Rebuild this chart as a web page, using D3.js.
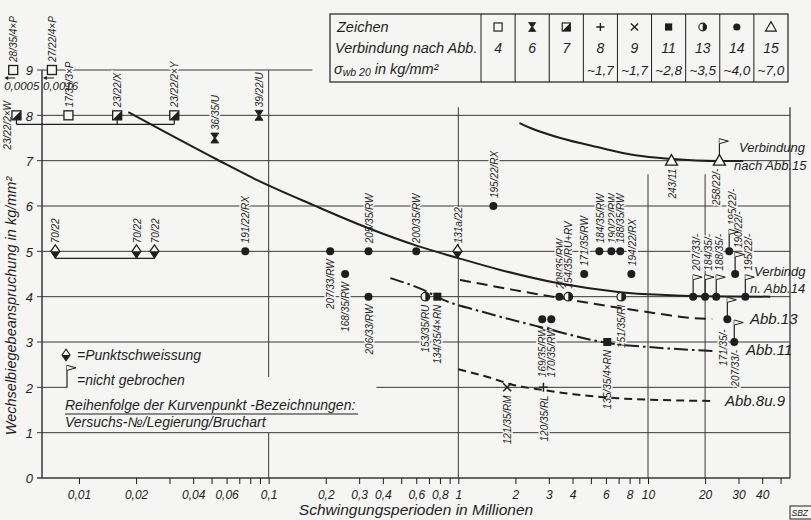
<!DOCTYPE html>
<html><head><meta charset="utf-8">
<script src="https://cdn.jsdelivr.net/npm/d3@7"></script>
<style>
html,body{margin:0;padding:0;background:#f5f5f3;}
svg{display:block;}
text{font-family:"Liberation Sans",Arial,sans-serif;font-style:italic;fill:#1e1e1e;}
</style></head><body>
<svg id="c" width="811" height="520"></svg>
<script>
// ---------------- DATA ----------------
const xTickValues = [0.01,0.02,0.04,0.06,0.1,0.2,0.3,0.4,0.6,0.8,1,2,3,4,6,8,10,20,30,40];
const xTickLabels = ["0,01","0,02","0,04","0,06","0,1","0,2","0,3","0,4","0,6","0,8","1","2","3","4","6","8","10","20","30","40"];
const xMinorTicks = [0.01,0.02,0.03,0.04,0.05,0.06,0.07,0.08,0.09,0.1,0.2,0.3,0.4,0.5,0.6,0.7,0.8,0.9,1,2,3,4,5,6,7,8,9,10,20,30,40,50];
const yTickValues = [0,1,2,3,4,5,6,7,8,9];

const tableSymbols = ["sq","hg","hsq","plus","x","fsq","hc","fc","tri"];
const tableAbb = ["4","6","7","8","9","11","13","14","15"];
const tableSigma = ["","","","~1,7","~1,7","~2,8","~3,5","~4,0","~7,0"];

// curves: [N in Mio, sigma kg/mm2]
const curveAbb15 = [[2.10,7.83],[2.40,7.72],[3.45,7.50],[5.40,7.30],[8.57,7.12],[13.1,7.04],[23.2,6.99],[31.8,6.99]];
const curveAbb14 = [[0.0182,8.07],[0.0537,7.02],[0.0871,6.57],[0.172,6.02],[0.331,5.52],[0.608,5.12],[1.0,4.85],[1.665,4.59],[3.33,4.30],[7.14,4.10],[11.6,4.04],[18.9,4.01],[44.1,4.0]];
const curveAbb13 = [[1.02,4.37],[1.95,4.15],[3.45,3.97],[7.14,3.75],[11.6,3.62],[16.7,3.53],[21.8,3.51]];
const curveAbb11 = [[0.438,4.41],[0.654,4.15],[0.834,3.93],[1.354,3.66],[2.71,3.33],[6.10,2.98],[11.6,2.87],[22.1,2.80]];
const curveAbb89 = [[1.0,2.40],[1.475,2.21],[1.88,2.07],[2.81,1.94],[4.04,1.85],[6.88,1.76],[11.6,1.72],[22.0,1.70]];

// test points: id, text, N (plotted), sigma, marker, label side (a=above,b=below,l=left), flag (not broken)
const points = [
 {id:"p1", t:"28/35/4×P", n:0.0045, s:9, m:"sq", lp:"a", note:"0,0005"},
 {id:"p2", t:"27/22/4×P", n:0.0072, s:9, m:"sq", lp:"a", note:"0,0016"},
 {id:"p3", t:"23/22/2×W", n:0.00468, s:8, m:"hsq", lp:"l"},
 {id:"p4", t:"17/35/3×P", n:0.0088, s:8, m:"sq", lp:"a"},
 {id:"p5", t:"23/22/X", n:0.0159, s:8, m:"hsq", lp:"a"},
 {id:"p6", t:"23/22/2×Y", n:0.0318, s:8, m:"hsq", lp:"a"},
 {id:"p7", t:"36/35/U", n:0.052, s:7.5, m:"hg", lp:"a"},
 {id:"p8", t:"39/22/U", n:0.089, s:8, m:"hg", lp:"a"},
 {id:"p9", t:"70/22", n:0.0075, s:5, m:"dia", lp:"a"},
 {id:"p10", t:"70/22", n:0.0201, s:5, m:"dia", lp:"a"},
 {id:"p11", t:"70/22", n:0.0250, s:5, m:"dia", lp:"a"},
 {id:"p12", t:"191/22/RX", n:0.0753, s:5, m:"fc", lp:"a"},
 {id:"p13", t:"207/33/RW", n:0.211, s:5, m:"fc", lp:"b"},
 {id:"p14", t:"168/35/RW", n:0.253, s:4.5, m:"fc", lp:"b"},
 {id:"p15", t:"205/35/RW", n:0.336, s:5, m:"fc", lp:"a"},
 {id:"p16", t:"206/33/RW", n:0.336, s:4, m:"fc", lp:"b"},
 {id:"p17", t:"200/35/RW", n:0.60, s:5, m:"fc", lp:"a"},
 {id:"p18", t:"131a/22", n:0.99, s:5, m:"dia", lp:"a"},
 {id:"p19", t:"195/22/RX", n:1.53, s:6, m:"fc", lp:"a"},
 {id:"p20", t:"153/35/RU", n:0.67, s:4, m:"hc", lp:"b"},
 {id:"p21", t:"134/35/4×RN", n:0.775, s:4, m:"fsq", lp:"b"},
 {id:"p22", t:"169/35/RW", n:2.77, s:3.5, m:"fc", lp:"b"},
 {id:"p23", t:"170/35/RW", n:3.09, s:3.5, m:"fc", lp:"b"},
 {id:"p24", t:"208/35/RW", n:3.41, s:4, m:"fc", lp:"a"},
 {id:"p25", t:"154/35/RU+RV", n:3.80, s:4, m:"hc", lp:"a"},
 {id:"p26", t:"171/35/RW", n:4.61, s:4.5, m:"fc", lp:"a"},
 {id:"p27", t:"184/35/RW", n:5.54, s:5, m:"fc", lp:"a"},
 {id:"p28", t:"190/22/RW", n:6.41, s:5, m:"fc", lp:"a"},
 {id:"p29", t:"188/35/RW", n:7.14, s:5, m:"fc", lp:"a"},
 {id:"p30", t:"194/22/RX", n:8.17, s:4.5, m:"fc", lp:"a"},
 {id:"p31", t:"151/35/RI", n:7.23, s:4, m:"hc", lp:"b"},
 {id:"p32", t:"135/35/4×RN", n:6.10, s:3, m:"fsq", lp:"b"},
 {id:"p33", t:"121/35/RM", n:1.81, s:2, m:"x", lp:"b"},
 {id:"p34", t:"120/35/RL", n:2.81, s:2, m:"plus", lp:"b"},
 {id:"p35", t:"243/11", n:13.3, s:7, m:"tri", lp:"b"},
 {id:"p36", t:"258/22/-", n:23.8, s:7, m:"tri", lp:"b", flag:true},
 {id:"p37", t:"207/33/-", n:17.3, s:4, m:"fc", lp:"a", flag:true},
 {id:"p38", t:"184/35/-", n:20.0, s:4, m:"fc", lp:"a", flag:true},
 {id:"p39", t:"188/35/-", n:22.9, s:4, m:"fc", lp:"a", flag:true},
 {id:"p40", t:"195/22/-", n:26.8, s:5, m:"fc", lp:"a", flag:true},
 {id:"p41", t:"190/22/-", n:28.8, s:4.5, m:"fc", lp:"a", flag:true},
 {id:"p42", t:"195/22/-", n:32.6, s:4, m:"fc", lp:"a", flag:true},
 {id:"p43", t:"171/35/-", n:26.2, s:3.5, m:"fc", lp:"b", flag:true},
 {id:"p44", t:"207/33/-", n:28.5, s:3, m:"fc", lp:"b", flag:true}
];
const brackets = [["p3","p5","p6"],["p9","p10","p11"]];

// ---------------- LAYOUT ----------------
const INK = "#1e1e1e", BG = "#f5f5f3", GRID = "#383838";
const svg = d3.select("#c");
svg.append("rect").attr("width",811).attr("height",520).attr("fill",BG);
const x = d3.scaleLog().domain([0.006383, 56.06]).range([42, 790]);
const y = d3.scaleLinear().domain([0, 9]).range([478, 70]);
const labelShift = {p36:[-4,0], p43:[-4,2], p44:[1,0]};
const bracketDrop = [9, 7];

// grid
const grid = svg.append("g").attr("stroke", GRID).attr("stroke-width", 1).attr("fill","none");
function hl(v, x0, x1, w){ grid.append("line").attr("x1",x0).attr("x2",x1).attr("y1",y(v)).attr("y2",y(v)).attr("stroke-width",w||1); }
function vl(n, v0, v1, w){ grid.append("line").attr("x1",x(n)).attr("x2",x(n)).attr("y1",y(v0)).attr("y2",y(v1)).attr("stroke-width",w||1); }
hl(9, 37, x(0.17));
[8,7,6,5,4,3,1].forEach(v => hl(v, 37, x.range()[1]));
hl(2, 37, x(0.00869)); hl(2, x(0.37), x.range()[1]);
hl(0, 37, x.range()[1], 1.5);
grid.append("line").attr("x1",42).attr("x2",42).attr("y1",y(9)).attr("y2",y(0)).attr("stroke-width",1.5);
vl(0.1, 9, 2.23); vl(0.1, 0.99, 0);
vl(1, 8.18, 0); vl(10, 6.7, 0); vl(20, 6.7, 0);
vl(x.domain()[1], 8.18, 0, 1.3);

// x axis ticks
const xa = svg.append("g").attr("transform", `translate(0,${y(0)})`)
  .call(d3.axisBottom(x).tickValues(xMinorTicks).tickSize(6).tickFormat(""));
xa.select(".domain").remove();
xa.selectAll("line").attr("stroke", INK).attr("stroke-width",1);
const xl = svg.append("g").attr("transform", `translate(0,${y(0)})`)
  .call(d3.axisBottom(x).tickValues(xTickValues).tickSize(0).tickPadding(12).tickFormat((d,i)=>xTickLabels[i]));
xl.select(".domain").remove();
xl.selectAll("text").attr("font-size",12).attr("font-family","Liberation Sans, Arial, sans-serif").attr("font-style","italic").attr("fill",INK);

const yl = svg.append("g").attr("transform", "translate(42,0)")
  .call(d3.axisLeft(y).tickValues(yTickValues).tickSize(0).tickPadding(9).tickFormat(d3.format("d")));
yl.select(".domain").remove();
yl.selectAll("text").attr("font-size",13).attr("font-family","Liberation Sans, Arial, sans-serif").attr("font-style","italic").attr("fill",INK).attr("dy","0.36em");

// axis titles
svg.append("text").attr("transform","translate(16,306) rotate(-90)").attr("text-anchor","middle")
  .attr("font-size",14.5).text("Wechselbiegebeanspruchung in kg/mm²");
svg.append("text").attr("x",416).attr("y",515).attr("text-anchor","middle").attr("font-size",15.5)
  .text("Schwingungsperioden in Millionen");

// symbol painter
function drawSym(g, type, cx, cy, k) {
  k = k || 1;
  const gg = g.append("g").attr("transform", `translate(${cx},${cy}) scale(${k})`);
  switch(type){
    case "sq": gg.append("rect").attr("x",-4.5).attr("y",-4.5).attr("width",9).attr("height",9).attr("fill",BG).attr("stroke",INK).attr("stroke-width",1.3); break;
    case "hsq": gg.append("rect").attr("x",-4.5).attr("y",-4.5).attr("width",9).attr("height",9).attr("fill",BG).attr("stroke",INK).attr("stroke-width",1.3);
      gg.append("path").attr("d","M4.5,-4.5 L4.5,4.5 L-4.5,4.5 Z").attr("fill",INK); break;
    case "hg": gg.append("path").attr("d","M-4,-5 H4 L0.6,0 L4,5 H-4 L-0.6,0 Z").attr("fill",INK).attr("stroke",INK).attr("stroke-width",0.8); break;
    case "plus": gg.append("path").attr("d","M-4.5,0 H4.5 M0,-4.5 V4.5").attr("stroke",INK).attr("stroke-width",1.5); break;
    case "x": gg.append("path").attr("d","M-4,-4 L4,4 M-4,4 L4,-4").attr("stroke",INK).attr("stroke-width",1.5); break;
    case "fsq": gg.append("rect").attr("x",-4).attr("y",-4).attr("width",8).attr("height",8).attr("fill",INK); break;
    case "hc": gg.append("circle").attr("r",4.3).attr("fill",BG).attr("stroke",INK).attr("stroke-width",1.2);
      gg.append("path").attr("d","M0,-4.3 A4.3,4.3 0 0 1 0,4.3 Z").attr("fill",INK); break;
    case "fc": gg.append("circle").attr("r",4).attr("fill",INK); break;
    case "tri": gg.append("path").attr("d","M0,-6 L6,4.5 L-6,4.5 Z").attr("fill",BG).attr("stroke",INK).attr("stroke-width",1.3); break;
    case "dia": gg.append("path").attr("d","M0,-6.5 L4.5,0 L0,6.5 L-4.5,0 Z").attr("fill",BG).attr("stroke",INK).attr("stroke-width",1.2);
      gg.append("path").attr("d","M-4.5,0 L4.5,0 L0,6.5 Z").attr("fill",INK); break;
  }
}

// legend table
const tb = svg.append("g");
tb.append("rect").attr("x",330).attr("y",14).attr("width",458).attr("height",68).attr("fill",BG).attr("stroke",INK).attr("stroke-width",1.2);
const c0 = 481, cw = (788-481)/tableAbb.length;
tableAbb.forEach((a,i) => {
  tb.append("line").attr("x1",c0+i*cw).attr("x2",c0+i*cw).attr("y1",14).attr("y2",82).attr("stroke",INK).attr("stroke-width",1);
  const cx = c0 + (i+0.5)*cw;
  drawSym(tb, tableSymbols[i], cx, 27, 0.9);
  tb.append("text").attr("x",cx).attr("y",53).attr("text-anchor","middle").attr("font-size",14).text(a);
  if (tableSigma[i]) tb.append("text").attr("x",cx).attr("y",75).attr("text-anchor","middle").attr("font-size",13.5).text(tableSigma[i]);
});
tb.append("text").attr("x",337).attr("y",32).attr("font-size",14.5).text("Zeichen");
tb.append("text").attr("x",335).attr("y",53).attr("font-size",14.5).text("Verbindung nach Abb.");
const st = tb.append("text").attr("x",334).attr("y",74).attr("font-size",14.5);
st.append("tspan").text("σ");
st.append("tspan").attr("font-size",10.5).attr("dy",2).text("wb 20");
st.append("tspan").attr("dy",-2).text("  in kg/mm²");

// point labels (rotated)
const lg = svg.append("g");
function labelPos(p){
  let lx = x(p.n), ly = y(p.s), anc;
  const sh = labelShift[p.id] || [0,0];
  if (p.lp === "a") { if (p.flag) { ly -= 26; lx += 3; } else ly -= 8; anc = "start"; }
  else if (p.lp === "b") { ly += 8; anc = "end"; }
  else { lx -= 10; ly += 10; anc = "middle"; }
  return [lx+sh[0], ly+sh[1], anc];
}
points.forEach(p => {
  const [lx, ly, anc] = labelPos(p);
  lg.append("text").attr("transform",`translate(${lx},${ly}) rotate(-90) scale(0.87,1)`)
    .attr("text-anchor",anc).attr("dy","0.36em").attr("font-size",11.5)
    .attr("stroke",BG).attr("stroke-width",3).attr("paint-order","stroke").text(p.t);
});

// curves
const line = d3.line().x(d=>x(d[0])).y(d=>y(d[1])).curve(d3.curveMonotoneX);
const curves = [
  {d:curveAbb15, dash:null}, {d:curveAbb14, dash:null},
  {d:curveAbb13, dash:"11,6"}, {d:curveAbb11, dash:"14,4,2.5,4"}, {d:curveAbb89, dash:"8,5"}
];
curves.forEach(c => {
  svg.append("path").attr("d", line(c.d)).attr("fill","none").attr("stroke",INK).attr("stroke-width",2)
    .attr("stroke-dasharray", c.dash);
});

// brackets
const byId = {}; points.forEach(p => byId[p.id] = p);
brackets.forEach((b,i) => {
  const ps = b.map(id => byId[id]);
  const yy = y(ps[0].s) + bracketDrop[i];
  svg.append("line").attr("x1",x(ps[0].n)).attr("x2",x(ps[ps.length-1].n)).attr("y1",yy).attr("y2",yy).attr("stroke",INK).attr("stroke-width",1.2);
  ps.forEach(p => svg.append("line").attr("x1",x(p.n)).attr("x2",x(p.n)).attr("y1",y(p.s)).attr("y2",yy).attr("stroke",INK).attr("stroke-width",1.2));
});

// markers and flags
const mg = svg.append("g");
function flag(g, px, py){
  const top = py - 22;
  g.append("line").attr("x1",px).attr("x2",px).attr("y1",py).attr("y2",top).attr("stroke",INK).attr("stroke-width",1.2);
  g.append("path").attr("d",`M${px},${top} L${px+9},${top+2.5} L${px},${top+5}`).attr("fill",BG).attr("stroke",INK).attr("stroke-width",1);
}
points.forEach(p => {
  const px = x(p.n), py = y(p.s);
  if (p.flag) flag(mg, px, py);
  drawSym(mg, p.m, px, py, 1);
  if (p.note) {
    const ay = py + 8;
    mg.append("line").attr("x1",px+2).attr("x2",px-6).attr("y1",ay).attr("y2",ay).attr("stroke",INK).attr("stroke-width",1);
    mg.append("path").attr("d",`M${px-9},${ay} L${px-5},${ay-2} L${px-5},${ay+2} Z`).attr("fill",INK);
    mg.append("text").attr("x",Math.max(1, px-9)).attr("y",py+20).attr("font-size",11.5).text(p.note);
  }
});

// curve labels
const cl = svg.append("g");
cl.append("text").attr("x",739).attr("y",152).attr("font-size",13).text("Verbindung");
cl.append("text").attr("x",734).attr("y",170).attr("font-size",13).text("nach Abb.15");
cl.append("text").attr("x",754).attr("y",276).attr("font-size",13).text("Verbindg");
cl.append("text").attr("x",750).attr("y",293).attr("font-size",13).text("n. Abb.14");
cl.append("text").attr("x",750).attr("y",324).attr("font-size",15).text("Abb.13");
cl.append("text").attr("x",746).attr("y",355).attr("font-size",15).text("Abb.11");
cl.append("text").attr("x",725).attr("y",406).attr("font-size",15).text("Abb.8u.9");

// notes
const ng = svg.append("g");
drawSym(ng, "dia", 66, 355, 0.9);
ng.append("text").attr("x",77).attr("y",360).attr("font-size",14).text("=Punktschweissung");
flag(ng, 67, y(2));
ng.append("text").attr("x",77).attr("y",385).attr("font-size",14).text("=nicht gebrochen");
ng.append("text").attr("x",65).attr("y",410).attr("font-size",14).text("Reihenfolge der Kurvenpunkt -Bezeichnungen:");
ng.append("line").attr("x1",65).attr("x2",358).attr("y1",414).attr("y2",414).attr("stroke",INK).attr("stroke-width",1);
ng.append("text").attr("x",65).attr("y",427).attr("font-size",14).text("Versuchs-№/Legierung/Bruchart");

// stamp
svg.append("rect").attr("x",790).attr("y",506).attr("width",24).attr("height",13).attr("fill","none").attr("stroke",INK).attr("stroke-width",1);
svg.append("text").attr("x",791.5).attr("y",516).attr("font-size",8.5).attr("font-style","normal").text("SBZ");
</script>
</body></html>
